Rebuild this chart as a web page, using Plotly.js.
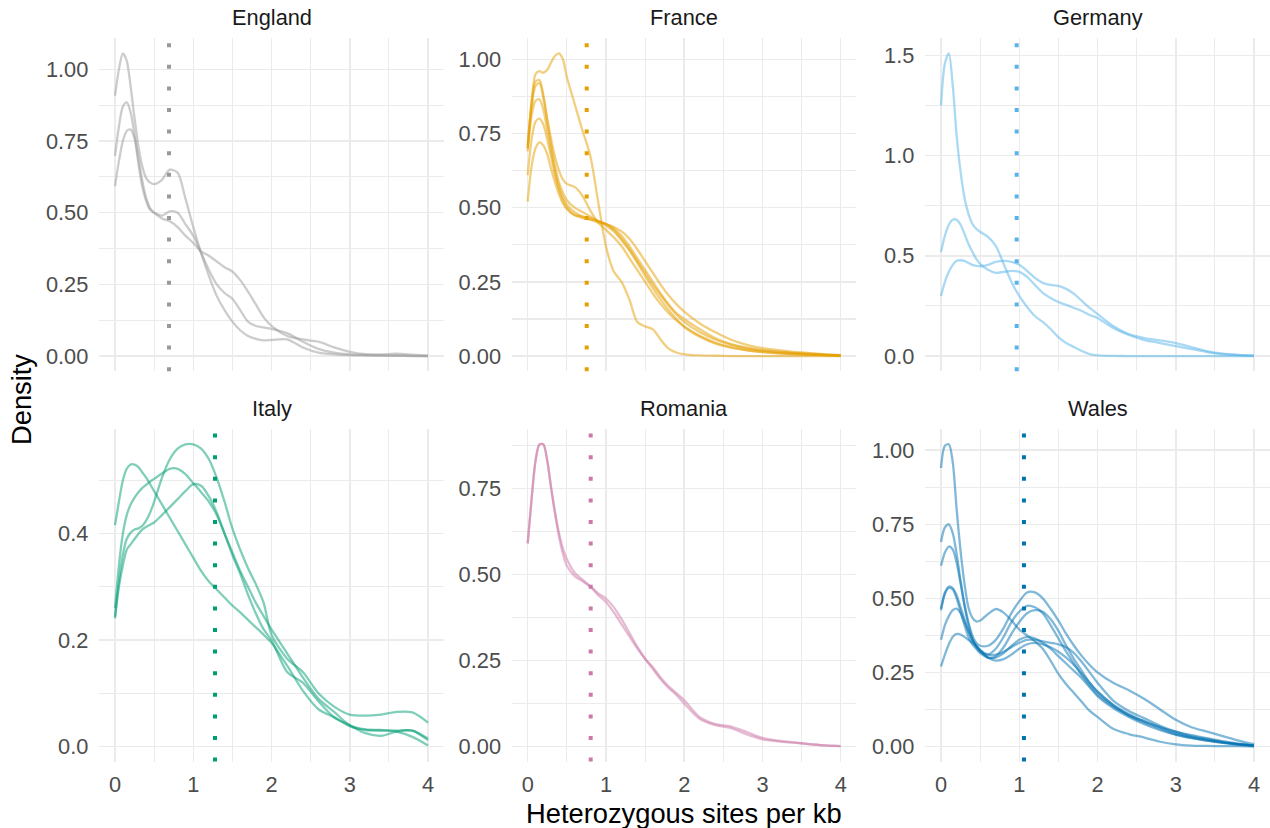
<!DOCTYPE html>
<html>
<head>
<meta charset="utf-8">
<script src="https://cdn.plot.ly/plotly-3.0.1.min.js"></script>
<style>
  html, body { margin: 0; padding: 0; background: #ffffff; }
  #chart { width: 1270px; height: 828px; }
</style>
</head>
<body>
<div id="chart"></div>
<script>
// Shared evaluation grid (heterozygous sites per kb) for every density curve
const hetX = [0, 0.05, 0.1, 0.15, 0.2, 0.25, 0.3, 0.35, 0.4, 0.45, 0.5, 0.6, 0.7, 0.8, 0.9,
  1.0, 1.1, 1.2, 1.3, 1.4, 1.5, 1.6, 1.7, 1.8, 1.9, 2.0, 2.2, 2.4, 2.6, 2.8, 3.0, 3.2, 3.4, 3.6, 3.8, 4.0];

// England
const englandA = [0.908, 1.00, 1.056, 1.03, 0.94, 0.83, 0.73, 0.66, 0.62, 0.605, 0.60, 0.615, 0.65, 0.64, 0.55,
  0.45, 0.36, 0.28, 0.21, 0.16, 0.12, 0.09, 0.07, 0.06, 0.055, 0.056, 0.058, 0.03, 0.012, 0.006, 0.003, 0.002, 0.001, 0.001, 0.0, 0.0];
const englandB = [0.698, 0.80, 0.87, 0.885, 0.85, 0.77, 0.67, 0.59, 0.54, 0.51, 0.50, 0.49, 0.505, 0.50, 0.46,
  0.42, 0.36, 0.30, 0.25, 0.22, 0.20, 0.16, 0.12, 0.105, 0.10, 0.095, 0.08, 0.05, 0.025, 0.012, 0.006, 0.004, 0.003, 0.002, 0.001, 0.0];
const englandC = [0.593, 0.68, 0.75, 0.785, 0.79, 0.76, 0.69, 0.61, 0.55, 0.515, 0.50, 0.48, 0.47, 0.45, 0.42,
  0.395, 0.365, 0.35, 0.33, 0.31, 0.295, 0.265, 0.225, 0.18, 0.135, 0.105, 0.07, 0.058, 0.05, 0.03, 0.015, 0.007, 0.006, 0.008, 0.005, 0.002];

// France
const franceA = [0.70, 0.86, 0.95, 0.96, 0.955, 0.965, 0.99, 1.012, 1.02, 1.0, 0.94, 0.85, 0.76, 0.675, 0.52,
  0.37, 0.285, 0.25, 0.19, 0.115, 0.10, 0.09, 0.055, 0.025, 0.012, 0.006, 0.002, 0.001, 0.0, 0.0, 0.0, 0.0, 0.0, 0.0, 0.0, 0.0];
const franceB = [0.71, 0.85, 0.925, 0.93, 0.88, 0.80, 0.73, 0.67, 0.625, 0.595, 0.58, 0.57, 0.54, 0.49, 0.45,
  0.425, 0.40, 0.37, 0.33, 0.29, 0.25, 0.21, 0.175, 0.145, 0.12, 0.10, 0.068, 0.045, 0.03, 0.02, 0.014, 0.01, 0.007, 0.005, 0.003, 0.001];
const franceC = [0.70, 0.84, 0.91, 0.92, 0.87, 0.79, 0.71, 0.64, 0.585, 0.55, 0.525, 0.50, 0.485, 0.47, 0.455,
  0.445, 0.43, 0.405, 0.37, 0.33, 0.29, 0.25, 0.21, 0.175, 0.145, 0.125, 0.09, 0.06, 0.04, 0.028, 0.02, 0.015, 0.011, 0.008, 0.005, 0.003];
const franceD = [0.69, 0.81, 0.86, 0.865, 0.83, 0.76, 0.69, 0.62, 0.57, 0.535, 0.51, 0.485, 0.47, 0.46, 0.45,
  0.445, 0.435, 0.42, 0.395, 0.36, 0.32, 0.28, 0.24, 0.205, 0.175, 0.15, 0.11, 0.08, 0.055, 0.038, 0.027, 0.02, 0.014, 0.01, 0.006, 0.003];
const franceE = [0.61, 0.73, 0.79, 0.80, 0.78, 0.73, 0.67, 0.61, 0.56, 0.525, 0.50, 0.475, 0.465, 0.46, 0.455,
  0.445, 0.425, 0.395, 0.36, 0.32, 0.28, 0.24, 0.205, 0.17, 0.14, 0.115, 0.08, 0.055, 0.038, 0.026, 0.018, 0.013, 0.009, 0.006, 0.004, 0.002];
const franceF = [0.52, 0.64, 0.70, 0.72, 0.71, 0.68, 0.63, 0.585, 0.545, 0.515, 0.495, 0.475, 0.47, 0.465, 0.455,
  0.44, 0.42, 0.39, 0.355, 0.315, 0.27, 0.228, 0.19, 0.155, 0.125, 0.098, 0.065, 0.042, 0.028, 0.019, 0.013, 0.009, 0.007, 0.005, 0.003, 0.001];

// Germany
const germanyA = [1.25, 1.46, 1.51, 1.35, 1.10, 0.92, 0.79, 0.71, 0.66, 0.635, 0.62, 0.595, 0.55, 0.46, 0.37,
  0.30, 0.245, 0.20, 0.17, 0.135, 0.095, 0.065, 0.045, 0.025, 0.01, 0.003, 0.001, 0.0, 0.0, 0.0, 0.0, 0.0, 0.0, 0.0, 0.0, 0.0];
const germanyB = [0.52, 0.60, 0.655, 0.68, 0.68, 0.655, 0.61, 0.56, 0.52, 0.485, 0.46, 0.43, 0.415, 0.42, 0.425,
  0.42, 0.395, 0.355, 0.315, 0.29, 0.27, 0.255, 0.24, 0.225, 0.205, 0.19, 0.14, 0.105, 0.08, 0.065, 0.05, 0.035, 0.02, 0.01, 0.005, 0.002];
const germanyC = [0.30, 0.37, 0.42, 0.455, 0.475, 0.478, 0.475, 0.465, 0.455, 0.45, 0.448, 0.455, 0.47, 0.475, 0.47,
  0.455, 0.425, 0.39, 0.365, 0.355, 0.35, 0.335, 0.31, 0.275, 0.24, 0.21, 0.15, 0.11, 0.09, 0.078, 0.065, 0.045, 0.025, 0.012, 0.006, 0.002];

// Italy
const italyA = [0.416, 0.46, 0.50, 0.522, 0.53, 0.53, 0.525, 0.515, 0.505, 0.493, 0.48, 0.455, 0.43, 0.405, 0.38,
  0.355, 0.33, 0.31, 0.295, 0.28, 0.265, 0.252, 0.238, 0.224, 0.21, 0.195, 0.152, 0.105, 0.07, 0.055, 0.038, 0.031, 0.03, 0.03, 0.03, 0.012];
const italyB = [0.244, 0.31, 0.36, 0.39, 0.402, 0.408, 0.41, 0.415, 0.425, 0.44, 0.46, 0.505, 0.54, 0.56, 0.568,
  0.568, 0.56, 0.54, 0.505, 0.46, 0.41, 0.37, 0.335, 0.305, 0.27, 0.21, 0.165, 0.14, 0.10, 0.075, 0.06, 0.058, 0.06, 0.065, 0.064, 0.045];
const italyC = [0.26, 0.34, 0.40, 0.435, 0.455, 0.468, 0.478, 0.486, 0.492, 0.498, 0.503, 0.513, 0.522, 0.522, 0.512,
  0.495, 0.478, 0.46, 0.435, 0.40, 0.365, 0.33, 0.30, 0.27, 0.245, 0.22, 0.175, 0.13, 0.09, 0.065, 0.04, 0.032, 0.031, 0.028, 0.018, 0.002];
const italyD = [0.241, 0.30, 0.34, 0.37, 0.38, 0.39, 0.40, 0.408, 0.413, 0.417, 0.421, 0.435, 0.45, 0.465, 0.48,
  0.493, 0.49, 0.47, 0.44, 0.40, 0.36, 0.325, 0.285, 0.25, 0.22, 0.20, 0.14, 0.12, 0.085, 0.055, 0.04, 0.025, 0.02, 0.028, 0.03, 0.015];

// Romania
const romaniaA = [0.59, 0.72, 0.83, 0.878, 0.878, 0.83, 0.75, 0.68, 0.62, 0.575, 0.545, 0.505, 0.485, 0.465, 0.44,
  0.42, 0.39, 0.355, 0.32, 0.285, 0.255, 0.23, 0.20, 0.175, 0.155, 0.135, 0.085, 0.065, 0.058, 0.042, 0.025, 0.017, 0.012, 0.007, 0.003, 0.001];
const romaniaB = [0.59, 0.72, 0.83, 0.878, 0.878, 0.83, 0.75, 0.675, 0.61, 0.56, 0.525, 0.495, 0.48, 0.465, 0.445,
  0.43, 0.405, 0.37, 0.33, 0.29, 0.255, 0.225, 0.195, 0.17, 0.15, 0.125, 0.08, 0.062, 0.053, 0.035, 0.021, 0.015, 0.011, 0.007, 0.003, 0.001];

// Wales
const walesA = [0.94, 1.015, 1.02, 0.96, 0.80, 0.66, 0.55, 0.47, 0.435, 0.422, 0.425, 0.447, 0.464, 0.452, 0.425,
  0.395, 0.375, 0.355, 0.33, 0.29, 0.245, 0.21, 0.18, 0.15, 0.12, 0.10, 0.06, 0.042, 0.03, 0.016, 0.007, 0.003, 0.002, 0.001, 0.001, 0.0];
const walesB = [0.69, 0.74, 0.75, 0.72, 0.65, 0.56, 0.48, 0.42, 0.375, 0.35, 0.34, 0.34, 0.36, 0.40, 0.45,
  0.49, 0.52, 0.52, 0.50, 0.465, 0.425, 0.38, 0.34, 0.305, 0.275, 0.25, 0.215, 0.19, 0.16, 0.125, 0.09, 0.065, 0.05, 0.035, 0.02, 0.008];
const walesC = [0.61, 0.655, 0.675, 0.665, 0.62, 0.55, 0.475, 0.41, 0.365, 0.335, 0.32, 0.31, 0.33, 0.37, 0.42,
  0.455, 0.475, 0.47, 0.45, 0.41, 0.365, 0.32, 0.28, 0.24, 0.205, 0.175, 0.135, 0.105, 0.08, 0.06, 0.04, 0.028, 0.02, 0.013, 0.007, 0.003];
const walesD = [0.465, 0.52, 0.54, 0.535, 0.51, 0.47, 0.43, 0.39, 0.36, 0.34, 0.325, 0.31, 0.31, 0.32, 0.335,
  0.35, 0.36, 0.36, 0.355, 0.35, 0.345, 0.335, 0.315, 0.285, 0.25, 0.215, 0.155, 0.12, 0.095, 0.07, 0.05, 0.035, 0.025, 0.015, 0.008, 0.003];
const walesE = [0.36, 0.41, 0.44, 0.46, 0.465, 0.45, 0.42, 0.39, 0.36, 0.34, 0.325, 0.30, 0.305, 0.335, 0.38,
  0.42, 0.45, 0.46, 0.455, 0.43, 0.39, 0.34, 0.295, 0.255, 0.215, 0.185, 0.14, 0.11, 0.085, 0.065, 0.045, 0.032, 0.022, 0.014, 0.008, 0.003];
const walesF = [0.27, 0.31, 0.345, 0.37, 0.38, 0.378, 0.37, 0.36, 0.35, 0.34, 0.325, 0.30, 0.29, 0.295, 0.31,
  0.33, 0.345, 0.35, 0.345, 0.335, 0.32, 0.30, 0.275, 0.245, 0.215, 0.185, 0.14, 0.105, 0.085, 0.065, 0.05, 0.038, 0.028, 0.018, 0.01, 0.004];
const walesG = [0.46, 0.515, 0.535, 0.53, 0.50, 0.455, 0.41, 0.37, 0.345, 0.33, 0.315, 0.30, 0.30, 0.315, 0.34,
  0.36, 0.37, 0.365, 0.35, 0.33, 0.305, 0.28, 0.255, 0.23, 0.20, 0.17, 0.13, 0.10, 0.075, 0.055, 0.04, 0.03, 0.02, 0.012, 0.006, 0.002];

// Facet labels, colours and the per-country mean (dotted line)
const countries = ['England', 'France', 'Germany', 'Italy', 'Romania', 'Wales'];
const countryColors = ['#999999', '#E69F00', '#56B4E9', '#009E73', '#CC79A7', '#0072B2'];
const countryMeans = [0.69, 0.754, 0.967, 1.278, 0.805, 1.06];
const countryCurves = [
  [englandA, englandB, englandC],
  [franceA, franceB, franceC, franceD, franceE, franceF],
  [germanyA, germanyB, germanyC],
  [italyA, italyB, italyC, italyD],
  [romaniaA, romaniaB],
  [walesA, walesB, walesC, walesD, walesE, walesF, walesG]
];
const yTickStep = [0.25, 0.25, 0.5, 0.2, 0.25, 0.25];
const yTickFormat = ['.2f', '.2f', '.1f', '.1f', '.2f', '.2f'];
const xTicks = [0, 1, 2, 3, 4];

// Panel geometry (pixels in the 1270 x 828 page)
const W = 1270, H = 828;
const colPx = [[99.35, 443.65], [512.05, 856.35], [925.35, 1269.65]];
const rowPx = [[38.2, 371.2], [429.2, 761.6]];

const FONT = 'Liberation Sans, Arial, sans-serif';
const GRID = '#EBEBEB';

function hexToRgba(hex, a) {
  const n = parseInt(hex.slice(1), 16);
  return `rgba(${(n >> 16) & 255},${(n >> 8) & 255},${n & 255},${a})`;
}

const traces = [];
const shapes = [];
const annotations = [];
const layout = {
  width: W, height: H,
  margin: { l: 0, r: 0, t: 0, b: 0 },
  paper_bgcolor: '#ffffff',
  plot_bgcolor: '#ffffff',
  showlegend: false,
  hovermode: false,
  font: { family: FONT, color: '#4D4D4D' }
};

countries.forEach((country, i) => {
  const col = i % 3, row = Math.floor(i / 3);
  const sfx = i === 0 ? '' : String(i + 1);
  const xa = 'x' + sfx, ya = 'y' + sfx;
  const curves = countryCurves[i];
  const color = countryColors[i];

  curves.forEach(ys => {
    traces.push({
      type: 'scatter', mode: 'lines',
      x: hetX, y: ys, xaxis: xa, yaxis: ya,
      line: { color: hexToRgba(color, 0.5), width: 2.3, shape: 'spline', smoothing: 0.8 },
      hoverinfo: 'skip'
    });
  });

  // ggplot-style 5% expansion around the data range
  const yMax = Math.max(...curves.map(c => Math.max(...c)));
  const yRange = [-0.05 * yMax, 1.05 * yMax];

  layout['xaxis' + sfx] = {
    domain: [colPx[col][0] / W, colPx[col][1] / W],
    anchor: ya,
    range: [-0.2, 4.2],
    tickvals: xTicks,
    ticktext: xTicks.map(String),
    showticklabels: row === 1,
    ticks: '',
    ticklabelstandoff: 8,
    tickfont: { family: FONT, size: 21.8, color: '#4D4D4D' },
    showgrid: true, gridcolor: GRID, gridwidth: 1.5,
    minor: { dtick: 0.5, tick0: 0, showgrid: true, gridcolor: GRID, gridwidth: 1.1 },
    zeroline: false, showline: false, fixedrange: true
  };
  layout['yaxis' + sfx] = {
    domain: [1 - rowPx[row][1] / H, 1 - rowPx[row][0] / H],
    anchor: xa,
    range: yRange,
    dtick: yTickStep[i], tick0: 0,
    tickformat: yTickFormat[i],
    ticks: '',
    ticklabelstandoff: 10,
    tickfont: { family: FONT, size: 21.8, color: '#4D4D4D' },
    showgrid: true, gridcolor: GRID, gridwidth: 1.5,
    minor: { dtick: yTickStep[i] / 2, tick0: 0, showgrid: true, gridcolor: GRID, gridwidth: 1.1 },
    zeroline: false, showline: false, fixedrange: true
  };

  // dotted mean line spanning the whole panel height
  shapes.push({
    type: 'line', xref: xa, yref: ya + ' domain',
    x0: countryMeans[i], x1: countryMeans[i], y0: 0, y1: 1,
    line: { color: color, width: 4, dash: '4px,17.6px' },
    layer: 'above'
  });

  // facet strip label
  annotations.push({
    xref: 'paper', yref: 'paper',
    x: (colPx[col][0] + colPx[col][1]) / 2 / W,
    y: 1 - (row === 0 ? 18 : 408) / H,
    xanchor: 'center', yanchor: 'middle',
    text: country, showarrow: false,
    font: { family: FONT, size: 21.8, color: '#1A1A1A' }
  });
});

annotations.push({
  xref: 'paper', yref: 'paper',
  x: (colPx[1][0] + colPx[1][1]) / 2 / W, y: 1 - 813 / H,
  xanchor: 'center', yanchor: 'middle',
  text: 'Heterozygous sites per kb', showarrow: false,
  font: { family: FONT, size: 27.3, color: '#000000' }
});
annotations.push({
  xref: 'paper', yref: 'paper',
  x: 22 / W, y: 1 - 400 / H,
  xanchor: 'center', yanchor: 'middle', textangle: -90,
  text: 'Density', showarrow: false,
  font: { family: FONT, size: 27.3, color: '#000000' }
});

layout.shapes = shapes;
layout.annotations = annotations;

Plotly.newPlot('chart', traces, layout, { staticPlot: true, displayModeBar: false });
</script>
</body>
</html>
